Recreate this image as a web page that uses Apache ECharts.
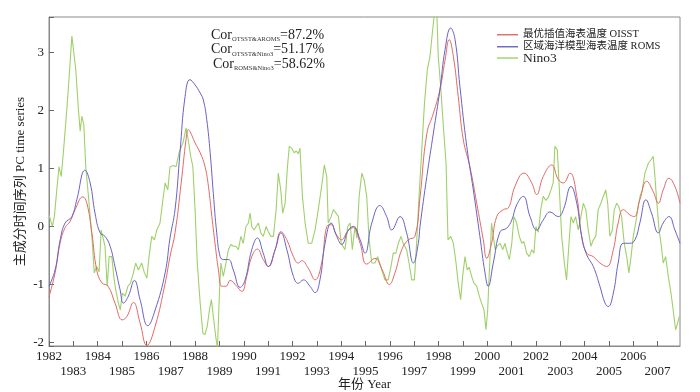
<!DOCTYPE html>
<html><head><meta charset="utf-8">
<script src="https://cdn.jsdelivr.net/npm/echarts@6/dist/echarts.min.js"></script>
<style>html,body{margin:0;padding:0;background:#fff}#c{width:700px;height:392px}</style>
</head><body><div id="c"></div>
<script>
const seriesNames = ['最优插值海表温度 OISST', '区域海洋模型海表温度 ROMS', 'Nino3'];
const corLabels = ['OTSST&AROMS', 'OTSST&Nino3', 'ROMS&Nino3'];
const corValues = ['87.2%', '51.17%', '58.62%'];

const oisstYears = [1982.00,1982.25,1982.46,1982.66,1982.87,1983.07,1983.39,1983.55,1983.76,1983.96,
1984.17,1984.43,1984.71,1985.01,1985.20,1985.47,1985.74,1986.02,1986.36,1986.77,
1986.97,1987.18,1987.43,1987.63,1987.72,1987.79,1988.00,1988.21,1988.41,1988.55,
1988.69,1988.82,1988.96,1989.10,1989.27,1989.44,1989.71,1989.92,1990.12,1990.33,
1990.56,1990.80,1991.01,1991.29,1991.53,1991.77,1992.04,1992.24,1992.38,1992.65,
1992.93,1993.20,1993.41,1993.59,1993.78,1994.02,1994.27,1994.50,1994.78,1995.05,
1995.39,1995.69,1995.98,1996.21,1996.49,1996.76,1997.03,1997.24,1997.52,1997.79,
1998.06,1998.27,1998.44,1998.61,1998.81,1999.02,1999.29,1999.57,1999.84,1999.98,
2000.18,2000.39,2000.66,2000.87,2001.14,2001.51,2001.83,2002.03,2002.30,2002.65,
2002.92,2003.13,2003.40,2003.68,2003.88,2004.09,2004.36,2004.63,2004.91,2005.18,
2005.38,2005.59,2005.86,2006.04,2006.27,2006.55,2006.82,2007.03,2007.23,2007.47,
2007.71,2007.92];
const oisstValues = [-1.21,-0.80,-0.28,-0.02,0.09,0.29,0.51,0.41,-0.11,-0.75,
-0.97,-1.03,-1.32,-1.61,-1.55,-1.31,-1.66,-2.05,-1.72,-0.98,
-0.52,-0.10,0.75,1.50,1.67,1.64,1.44,1.27,1.03,0.69,
0.17,-0.29,-0.75,-1.03,-1.03,-0.93,-1.03,-1.12,-0.86,-0.52,
-0.39,-0.57,-0.69,-0.40,-0.09,-0.23,-0.52,-0.63,-0.59,-0.72,
-0.92,-0.63,0.0,0.03,-0.12,-0.23,-0.08,-0.02,-0.29,-0.65,
-0.55,-0.75,-1.0,-0.8,-0.40,-0.23,-0.17,0.5,1.6,1.95,
2.36,2.87,3.22,2.93,2.24,1.49,1.03,0.40,-0.23,-0.55,
-0.29,0.17,0.29,0.32,0.69,0.92,0.75,0.55,0.86,1.06,
0.81,0.75,0.92,0.52,-0.17,-0.46,-0.52,-0.63,-0.69,-0.40,
0.06,0.29,0.20,0.17,0.46,0.78,0.60,0.40,0.63,0.83,
0.69,0.40];

const romsYears = [1982.00,1982.25,1982.46,1982.66,1982.94,1983.14,1983.48,1983.69,1983.89,1984.10,
1984.30,1984.51,1984.71,1984.92,1985.06,1985.26,1985.51,1985.74,1986.06,1986.36,
1986.77,1986.97,1987.18,1987.38,1987.59,1987.79,1988.00,1988.21,1988.34,1988.48,
1988.62,1988.75,1988.89,1989.03,1989.16,1989.37,1989.57,1989.85,1990.05,1990.33,
1990.56,1990.80,1991.01,1991.29,1991.53,1991.77,1992.04,1992.24,1992.45,1992.72,
1992.93,1993.13,1993.34,1993.59,1993.82,1994.02,1994.30,1994.50,1994.78,1994.98,
1995.26,1995.59,1995.87,1996.08,1996.42,1996.69,1996.97,1997.17,1997.24,1997.52,
1997.79,1998.06,1998.27,1998.50,1998.68,1998.88,1999.16,1999.43,1999.70,1999.91,
2000.04,2000.25,2000.53,2000.80,2001.01,2001.21,2001.48,2001.76,2002.03,2002.30,
2002.58,2002.92,2003.13,2003.44,2003.68,2003.88,2004.09,2004.36,2004.63,2004.84,
2004.97,2005.18,2005.38,2005.59,2005.86,2006.07,2006.27,2006.52,2006.75,2007.03,
2007.23,2007.47,2007.71,2007.92];
const romsValues = [-1.03,-0.75,-0.23,0.06,0.17,0.46,0.97,0.75,0.23,-0.11,
-0.17,-0.34,-0.69,-1.09,-1.32,-1.2,-0.93,-1.26,-1.71,-1.44,
-0.80,-0.2,0.3,1.27,2.24,2.53,2.44,2.30,2.18,1.84,
1.27,0.57,-0.11,-0.52,-0.57,-0.57,-0.75,-1.05,-0.93,-0.40,
-0.20,-0.46,-0.69,-0.40,-0.11,-0.40,-0.86,-0.98,-0.92,-1.03,
-1.14,-0.92,-0.29,0.06,-0.17,-0.31,-0.06,0.0,-0.23,-0.46,
0.06,0.36,0.17,-0.06,0.17,-0.11,-0.63,-0.29,0.0,0.86,
1.61,2.36,3.05,3.42,3.22,2.41,1.38,0.63,-0.17,-0.80,
-1.03,-0.63,-0.09,-0.03,0.11,0.37,0.52,0.17,-0.06,0.11,
0.25,0.17,0.29,0.69,0.40,-0.17,-0.49,-0.69,-1.03,-1.32,
-1.38,-1.15,-0.63,-0.29,-0.29,-0.23,0.06,0.46,0.23,-0.11,
0.06,0.17,-0.06,-0.29];

const nino3Years = [1982.00,1982.14,1982.22,1982.32,1982.41,1982.50,1982.59,1982.73,1982.83,1982.94,
1983.02,1983.10,1983.21,1983.28,1983.35,1983.43,1983.51,1983.62,1983.76,1983.86,
1983.96,1984.06,1984.14,1984.22,1984.30,1984.39,1984.47,1984.58,1984.66,1984.74,
1984.85,1984.93,1985.01,1985.13,1985.24,1985.34,1985.45,1985.56,1985.67,1985.81,
1985.92,1986.02,1986.11,1986.22,1986.33,1986.43,1986.56,1986.66,1986.77,1986.88,
1986.97,1987.11,1987.22,1987.34,1987.51,1987.63,1987.72,1987.82,1987.91,1988.00,
1988.09,1988.21,1988.32,1988.41,1988.50,1988.59,1988.67,1988.75,1988.85,1988.92,
1989.00,1989.06,1989.16,1989.27,1989.37,1989.47,1989.57,1989.68,1989.78,1989.88,
1989.98,1990.09,1990.19,1990.26,1990.33,1990.42,1990.51,1990.60,1990.70,1990.80,
1990.92,1991.01,1991.11,1991.22,1991.33,1991.42,1991.52,1991.60,1991.70,1991.79,
1991.87,1991.97,1992.07,1992.16,1992.24,1992.31,1992.41,1992.52,1992.65,1992.79,
1992.93,1993.06,1993.20,1993.31,1993.41,1993.47,1993.59,1993.68,1993.79,1993.89,
1994.00,1994.16,1994.27,1994.37,1994.46,1994.57,1994.65,1994.74,1994.85,1994.95,
1995.05,1995.15,1995.26,1995.39,1995.50,1995.67,1995.80,1995.93,1996.05,1996.14,
1996.25,1996.35,1996.46,1996.55,1996.69,1996.79,1996.90,1997.01,1997.10,1997.20,
1997.31,1997.42,1997.54,1997.65,1997.76,1997.84,1997.93,1997.99,1998.09,1998.20,
1998.31,1998.39,1998.50,1998.61,1998.72,1998.81,1998.91,1998.99,1999.09,1999.18,
1999.26,1999.36,1999.46,1999.57,1999.68,1999.77,1999.87,1999.95,2000.02,2000.09,
2000.18,2000.25,2000.33,2000.41,2000.53,2000.64,2000.73,2000.83,2000.91,2001.01,
2001.10,2001.21,2001.32,2001.42,2001.51,2001.62,2001.73,2001.83,2001.92,2002.00,
2002.10,2002.20,2002.30,2002.41,2002.51,2002.62,2002.71,2002.78,2002.88,2002.95,
2003.06,2003.17,2003.26,2003.36,2003.44,2003.54,2003.63,2003.74,2003.85,2003.95,
2004.05,2004.15,2004.26,2004.36,2004.46,2004.56,2004.67,2004.77,2004.87,2004.95,
2005.04,2005.14,2005.22,2005.32,2005.41,2005.52,2005.63,2005.73,2005.82,2005.91,
2006.00,2006.10,2006.18,2006.28,2006.37,2006.48,2006.62,2006.73,2006.82,2006.89,
2006.97,2007.06,2007.14,2007.23,2007.33,2007.44,2007.55,2007.64,2007.74,2007.82,
2007.89];
const nino3Values = [0.2,0.0,0.17,0.63,1.03,0.86,1.27,2.01,2.59,3.28,
3.28,2.7,2.01,1.64,1.90,1.75,1.03,0.52,-0.17,-0.80,
-0.69,-0.78,-0.06,-0.03,-0.34,-1.03,-0.52,-0.52,-0.86,-1.09,
-1.32,-1.44,-1.15,-1.2,-1.03,-0.98,-0.83,-0.63,-0.75,-0.63,
-0.80,-0.89,-0.52,-0.17,-0.23,-0.06,0.06,0.40,0.75,0.63,
1.03,1.05,1.03,1.27,1.45,1.70,1.49,1.21,1.03,0.29,
-0.63,-1.32,-1.84,-1.86,-1.72,-1.44,-1.26,-1.55,-1.90,-2.1,
-1.15,-0.63,-0.86,-0.63,-0.40,-0.31,-0.34,-0.34,-0.40,-0.17,
-0.29,0.0,0.06,0.23,0.0,-0.06,0.0,0.06,-0.11,-0.17,
0.0,-0.09,-0.17,-0.17,0.29,0.92,0.63,0.23,0.40,1.0,
1.38,1.35,1.27,1.30,1.25,1.35,0.52,0.06,-0.29,-0.29,
-0.06,0.29,0.69,1.06,0.86,0.06,0.17,0.29,0.23,0.17,
-0.29,-0.40,0.0,0.06,-0.40,0.0,-0.2,0.52,0.92,0.80,
0.52,-0.23,-0.63,-0.63,-0.52,-0.75,-0.92,-0.92,-0.69,-0.46,
-0.46,-0.29,-0.17,-0.29,-0.40,-0.63,-0.92,-0.92,-0.29,0.52,
1.3,2.1,2.70,2.93,3.39,3.7,3.7,2.93,2.41,1.72,
1.09,-0.23,-0.17,-0.29,-0.63,-0.98,-1.26,-0.86,-0.52,-0.75,
-0.7,-0.86,-0.98,-1.03,-1.21,-1.32,-1.44,-1.78,-1.44,-0.75,
0.06,-0.17,-0.40,-0.34,-0.29,-0.40,-0.29,-0.46,-0.57,-0.29,
0.17,0.06,-0.17,-0.29,-0.26,-0.46,-0.52,-0.40,-0.46,0.0,
-0.1,0.29,0.52,0.45,0.50,0.63,0.75,1.38,1.32,0.75,
-0.17,-0.63,-0.92,-0.29,0.17,0.06,0.17,-0.06,0.17,0.40,
0.29,-0.06,-0.34,-0.23,-0.17,0.29,0.40,0.52,0.63,0.40,
-0.17,-0.06,0.29,0.40,0.34,0.17,-0.29,-0.52,-0.80,-0.52,
-0.17,0.06,0.29,0.52,0.63,0.92,1.09,1.15,1.21,0.86,
0.40,-0.06,-0.29,-0.63,-0.52,-0.86,-1.15,-1.44,-1.78,-1.67,
-1.55];

const SERIF = '"Liberation Serif","Times New Roman",serif';
const CJK = '"Liberation Serif","Noto Sans CJK SC",serif';
const zip = (xs, ys) => xs.map((x, i) => [x, ys[i]]);
const isInt = v => Math.abs(v - Math.round(v)) < 1e-6;
const yearLabel = parity => v => (isInt(v) && Math.round(v) % 2 === parity) ? String(Math.round(v)) : '';

const chart = echarts.init(document.getElementById('c'), null, {renderer: 'canvas'});
const corGraphics = corLabels.map((lab, i) => ({
  type: 'text', left: i === 2 ? 213 : 211, top: 28 + i * 14.5,
  style: {
    text: '{a|Cor}{s|' + lab + '}{a|=' + corValues[i] + '}',
    rich: {
      a: {fontFamily: SERIF, fontSize: 14, lineHeight: 16, fill: '#222'},
      s: {fontFamily: SERIF, fontSize: 6.5, lineHeight: 8, verticalAlign: 'bottom', fill: '#333'}
    }
  }
}));

const legendTops = [29.5, 41.5, 51];
const legends = seriesNames.map((n, i) => ({
  orient: 'vertical', left: 497, top: legendTops[i], padding: 0, itemGap: 0,
  itemWidth: 21, itemHeight: 1.4, icon: 'rect',
  data: [n],
  textStyle: i === 2
    ? {fontFamily: SERIF, fontSize: 13.5, color: '#222'}
    : {fontFamily: CJK, fontSize: 10.5, color: '#222'}
}));

const xBase = {
  type: 'value', min: 1982, max: 2007.92, interval: 1, position: 'bottom',
  splitLine: {show: false}
};

chart.setOption({
  animation: false,
  backgroundColor: '#fff',
  grid: {left: 49, right: 20, top: 17, bottom: 46, show: true, borderColor: '#8a8a8a', borderWidth: 1,
         containLabel: false, outerBoundsMode: 'none'},
  legend: legends,
  xAxis: [
    Object.assign({}, xBase, {
      name: '年份 Year', nameLocation: 'middle', nameGap: 32, nameMoveOverlap: false,
      nameTextStyle: {fontFamily: CJK, fontSize: 13, color: '#222'},
      axisLine: {show: true, onZero: false, lineStyle: {color: '#8a8a8a', width: 1}},
      axisTick: {show: true, inside: true, length: 5, lineStyle: {color: '#666'}},
      axisLabel: {fontFamily: SERIF, fontSize: 13, color: '#222', margin: 4.5,
                  showMinLabel: true, showMaxLabel: false, hideOverlap: false, formatter: yearLabel(0)}
    }),
    Object.assign({}, xBase, {
      axisLine: {show: false, onZero: false}, axisTick: {show: false},
      axisLabel: {fontFamily: SERIF, fontSize: 13, color: '#222', margin: 19.5,
                  showMinLabel: true, showMaxLabel: false, hideOverlap: false, formatter: yearLabel(1)}
    })
  ],
  yAxis: {
    type: 'value', min: -2.06, max: 3.61, minInterval: 1, maxInterval: 1,
    name: '主成分时间序列 PC time series', nameLocation: 'middle', nameGap: 22, nameMoveOverlap: false,
    nameTextStyle: {fontFamily: CJK, fontSize: 13, color: '#222'},
    axisLine: {show: true, onZero: false, lineStyle: {color: '#8a8a8a', width: 1}},
    axisTick: {show: true, inside: true, length: 5, lineStyle: {color: '#666'}},
    splitLine: {show: false},
    axisLabel: {
      fontFamily: SERIF, fontSize: 13, color: '#222', margin: 5,
      formatter: v => isInt(v) ? String(Math.round(v)) : ''
    }
  },
  graphic: corGraphics,
  series: [
    {name: seriesNames[0], type: 'line', xAxisIndex: 0, data: zip(oisstYears, oisstValues), showSymbol: false, symbol: 'none',
     smooth: 0.45, lineStyle: {color: '#e06a66', width: 1}, itemStyle: {color: '#e06a66'}, z: 3},
    {name: seriesNames[1], type: 'line', xAxisIndex: 0, data: zip(romsYears, romsValues), showSymbol: false, symbol: 'none',
     smooth: 0.45, lineStyle: {color: '#6a62c4', width: 1}, itemStyle: {color: '#6a62c4'}, z: 4},
    {name: seriesNames[2], type: 'line', xAxisIndex: 0, data: zip(nino3Years, nino3Values), showSymbol: false, symbol: 'none',
     smooth: false, lineStyle: {color: '#9fd06a', width: 1.1}, itemStyle: {color: '#9fd06a'}, z: 2}
  ]
});
</script>
</body></html>
